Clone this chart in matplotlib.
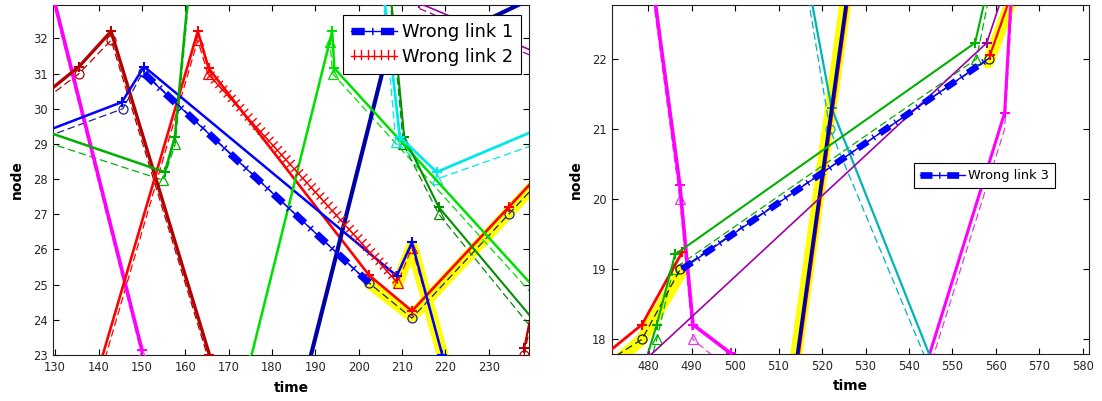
import matplotlib
matplotlib.use('Agg')
import matplotlib.pyplot as plt
import matplotlib.patheffects as pe

plt.rcParams['font.family'] = ['DejaVu Sans']

# ======================= DATA : left panel =======================
left_xticks = [130, 140, 150, 160, 170, 180, 190, 200, 210, 220, 230]
left_yticks = [23, 24, 25, 26, 27, 28, 29, 30, 31, 32]

# actual trajectories (solid, '+')
lm_t = [127.5, 150.0];                              lm_n = [34.2, 23.15]
lr_t = [128.0, 135.5, 142.9, 165.6];                lr_n = [30.45, 31.2, 32.2, 23.0]
lred_t = [140.5, 162.9, 165.4, 202.4, 212.3, 234.6, 241.0]
lred_n = [22.8, 32.2, 31.15, 25.27, 24.25, 27.2, 28.05]
lb_t = [128.0, 145.4, 150.5, 208.8, 212.3, 219.3];  lb_n = [29.37, 30.19, 31.2, 25.25, 26.2, 23.0]
lnavy_t = [188.5, 205.6, 241.0];                    lnavy_n = [22.75, 31.1, 33.2]
llime_t = [175.0, 193.9, 194.4, 241.0];             llime_n = [22.85, 32.2, 31.15, 24.85]
lg_t = [128.0, 155.3, 157.6, 161.2];                lg_n = [29.35, 28.2, 29.2, 33.9]
ldg_t = [207.2, 210.5, 218.5, 241.0];               ldg_n = [33.5, 29.2, 27.2, 23.9]
lc_t = [205.6, 209.5, 218.0, 241.0];                lc_n = [33.5, 29.2, 28.2, 29.4]
lp_t = [214.0, 241.0];                              lp_n = [33.0, 31.6]
lr2_t = [238.2, 242.0];                             lr2_n = [23.2, 25.5]

# estimated trajectories (dashed)
lm_et = [127.5, 150.0];                             lm_en = [34.05, 23.0]
lr_et = [128.0, 135.5, 142.9, 165.3];               lr_en = [30.3, 31.0, 31.95, 22.9]
lred_et = [140.8, 162.9, 165.2, 209.0, 212.3, 219.6]
lred_en = [22.6, 31.95, 31.0, 25.05, 26.05, 22.9]
lb_et = [128.0, 145.6, 150.3, 202.4, 212.3, 234.6, 241.0]
lb_en = [29.2, 30.0, 31.05, 25.05, 24.05, 27.0, 27.85]
llime_et = [175.0, 193.4, 194.0, 241.0];            llime_en = [22.8, 31.9, 31.0, 24.6]
lg_et = [128.0, 154.9, 157.7, 161.0];               lg_en = [29.05, 27.97, 29.0, 33.4]
ldg_et = [207.0, 210.3, 218.5, 241.0];              ldg_en = [33.5, 29.0, 27.0, 23.6]
lc_et = [205.4, 208.6, 218.0, 241.0];               lc_en = [33.5, 29.05, 28.0, 29.0]
lp_et = [214.0, 241.0];                             lp_en = [32.85, 31.45]
lr2_et = [238.2, 242.0];                            lr2_en = [23.0, 25.3]

# highlighted segments
ly1_t = [202.4, 212.3, 234.6, 241.0];               ly1_n = [25.05, 24.1, 27.05, 27.9]
ly2_t = [209.0, 212.3, 219.6];                      ly2_n = [25.05, 26.1, 22.9]

# wrong links
wl1_t = [150.5, 202.4];                             wl1_n = [31.0, 25.05]
wl2_t = [165.2, 209.0];                             wl2_n = [31.0, 25.05]

# ======================= DATA : right panel =======================
right_xticks = [480, 490, 500, 510, 520, 530, 540, 550, 560, 570, 580]
right_yticks = [18, 19, 20, 21, 22]

rm1_t = [481.0, 487.3, 490.3, 499.0, 506.0];        rm1_n = [23.1, 20.2, 18.21, 17.8, 17.45]
rm2_t = [544.3, 562.0, 563.6];                      rm2_n = [17.7, 21.23, 23.0]
rc_t = [516.8, 522.2, 545.2];                       rc_n = [23.1, 21.3, 17.7]
rnavy_t = [513.5, 526.5];                           rnavy_n = [17.4, 23.2]
rredn_t = [513.9, 526.9];                           rredn_n = [17.4, 23.2]
rred_t = [469.5, 478.6, 487.8];                     rred_n = [17.75, 18.21, 19.24]
rred2_t = [558.6, 563.4];                           rred2_n = [22.05, 22.9]
rg_t = [479.5, 482.0, 486.2, 555.2, 559.0];         rg_n = [17.7, 18.21, 19.21, 22.23, 23.26]
rp_t = [480.3, 557.9, 562.0];                       rp_n = [17.76, 22.23, 23.0]

rm1_et = [481.0, 487.3, 490.3, 498.0];              rm1_en = [22.95, 20.0, 18.0, 17.6]
rm2_et = [545.3, 562.0, 563.9];                     rm2_en = [17.7, 21.0, 23.0]
rc_et = [516.2, 521.8, 544.0];                      rc_en = [23.1, 21.0, 17.7]
rg_et = [479.8, 482.0, 485.8, 555.5, 558.8];        rg_en = [17.5, 18.0, 19.0, 22.0, 23.0]
rk_et = [470.5, 478.6, 487.4, 558.4, 563.5];        rk_en = [17.68, 18.0, 19.0, 22.0, 22.9]

ry1_t = [471.5, 478.6, 488.0];                      ry1_n = [17.62, 18.0, 19.0]
ry2_t = [558.2, 564.0];                             ry2_n = [21.95, 22.9]
ry3_t = [513.2, 526.5];                             ry3_n = [17.4, 23.3]

wl3_t = [487.8, 558.4];                             wl3_n = [19.0, 22.01]

# ======================= colours =======================
MAG = '#FF00FF'; MAROON = '#B40000'; RED = '#FF0000'; BLUE = '#0000FF'
NAVY = '#0000A8'; LIME = '#00E000'; GREEN = '#00B000'; DGREEN = '#009000'
CYAN = '#00E8E8'; TEAL = '#00B4B4'; PURPLE = '#A000A8'; YEL = '#FFFF00'

fig = plt.figure(figsize=(11.02, 4.01), dpi=100)
axL = fig.add_axes([53/1102, 46/401, 476/1102, 350/401])
axR = fig.add_axes([612/1102, 47/401, 477/1102, 349/401])


def solid(ax, t, n, c, lw=1.8, mk='+'):
    ax.plot(t, n, color=c, lw=lw, marker=mk, ms=7, mew=1.5, zorder=4)


def est(ax, t, n, c, mk='^', lw=0.9):
    ax.plot(t, n, color=c, lw=lw, ls=(0, (6, 3)), marker=mk, ms=6.5, mew=0.9,
            mfc='none', zorder=3)


def yellow(ax, t, n):
    ax.plot(t, n, color=YEL, lw=8.5, solid_capstyle='round',
            solid_joinstyle='round', zorder=1)


def wrong_link(ax, t, n, lw):
    thin, = ax.plot(t, n, color=BLUE, lw=1.0, zorder=6)
    thick, = ax.plot(t, n, color=BLUE, lw=lw, dashes=(1.8, 1.0, 0.2, 1.0),
                     dash_capstyle='butt', zorder=7)
    return (thin, thick)


# ---------------- left panel ----------------
yellow(axL, ly1_t, ly1_n)
yellow(axL, ly2_t, ly2_n)

est(axL, lm_et, lm_en, '#E040E0')
est(axL, lr_et, lr_en, MAROON, 'o')
est(axL, lred_et, lred_en, RED)
est(axL, lb_et, lb_en, '#202090', 'o')
est(axL, llime_et, llime_en, LIME)
est(axL, lg_et, lg_en, GREEN)
est(axL, ldg_et, ldg_en, DGREEN)
est(axL, lc_et, lc_en, CYAN)
est(axL, lp_et, lp_en, PURPLE, None)
est(axL, lr2_et, lr2_en, MAROON, 'o')

solid(axL, lm_t, lm_n, MAG, 2.6)
solid(axL, lr_t, lr_n, MAROON, 2.4)
solid(axL, lred_t, lred_n, RED, 1.9)
solid(axL, lb_t, lb_n, BLUE, 1.8)
solid(axL, lnavy_t, lnavy_n, NAVY, 3.0)
solid(axL, llime_t, llime_n, LIME, 1.8)
solid(axL, lg_t, lg_n, GREEN, 1.8)
solid(axL, ldg_t, ldg_n, DGREEN, 1.5)
solid(axL, lc_t, lc_n, CYAN, 2.0)
solid(axL, lp_t, lp_n, PURPLE, 1.2)
solid(axL, lr2_t, lr2_n, MAROON, 1.5)

h1 = wrong_link(axL, wl1_t, wl1_n, 5.3)
ticks = [pe.TickedStroke(spacing=4.5, angle=90, length=0.9, linewidth=1.0),
         pe.withTickedStroke(spacing=4.5, angle=-90, length=0.55, linewidth=1.0)]
h2, = axL.plot(wl2_t, wl2_n, color=RED, lw=1.0, zorder=6, path_effects=ticks)

axL.set_xlim(129.5, 239.3)
axL.set_ylim(23.0, 32.95)
axL.set_xticks(left_xticks)
axL.set_yticks(left_yticks)

legL = axL.legend([h1, h2], ['Wrong link 1', 'Wrong link 2'], loc='upper right',
                  bbox_to_anchor=(1 - 8/476, 1 - 10/350), borderaxespad=0,
                  fontsize=12.8, handlelength=2.6, handletextpad=0.25,
                  borderpad=0.45, labelspacing=0.4, fancybox=False,
                  framealpha=1, edgecolor='black')
legL.get_frame().set_linewidth(0.8)
legL.set_zorder(10)

# ---------------- right panel ----------------
yellow(axR, ry1_t, ry1_n)
yellow(axR, ry2_t, ry2_n)
yellow(axR, ry3_t, ry3_n)

est(axR, rm1_et, rm1_en, '#E040E0')
est(axR, rm2_et, rm2_en, '#E040E0', None)
est(axR, rc_et, rc_en, TEAL, 'o')
est(axR, rg_et, rg_en, GREEN)
est(axR, rk_et, rk_en, '#202020', 'o')

solid(axR, rm1_t, rm1_n, MAG, 2.6)
solid(axR, rm2_t, rm2_n, MAG, 2.2)
solid(axR, rc_t, rc_n, TEAL, 1.6)
solid(axR, rredn_t, rredn_n, RED, 1.0, None)
solid(axR, rnavy_t, rnavy_n, NAVY, 2.6, None)
solid(axR, rred_t, rred_n, RED, 2.0)
solid(axR, rred2_t, rred2_n, RED, 1.5)
solid(axR, rg_t, rg_n, GREEN, 1.5)
solid(axR, rp_t, rp_n, PURPLE, 1.2)

h3 = wrong_link(axR, wl3_t, wl3_n, 4.8)

axR.set_xlim(471.7, 581.4)
axR.set_ylim(17.79, 22.77)
axR.set_xticks(right_xticks)
axR.set_yticks(right_yticks)

legR = axR.legend([h3], ['Wrong link 3'], loc='center',
                  bbox_to_anchor=(0.781, 0.511), borderaxespad=0,
                  fontsize=9.3, handlelength=3.5, handletextpad=0.2,
                  borderpad=0.45, fancybox=False, framealpha=1,
                  edgecolor='black')
legR.get_frame().set_linewidth(0.8)
legR.set_zorder(10)

for ax in (axL, axR):
    ax.tick_params(direction='in', top=True, right=True, length=4,
                   width=0.8, labelsize=8.3, labelcolor='#262626', pad=4)
    for s in ax.spines.values():
        s.set_linewidth(0.8)
        s.set_color('#202020')
    ax.set_xlabel('time', fontsize=10, fontweight='bold', labelpad=5)
    ax.set_ylabel('node', fontsize=10, fontweight='bold', labelpad=6)

fig.savefig('out.png', dpi=100, facecolor='white')
